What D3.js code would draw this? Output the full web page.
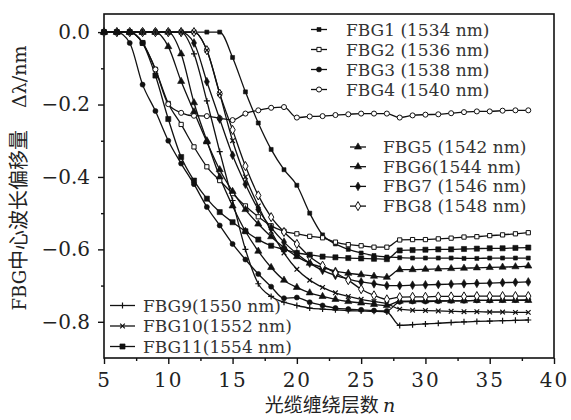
<!DOCTYPE html>
<html>
<head>
<meta charset="utf-8">
<script src="https://cdn.jsdelivr.net/npm/d3@7"></script>
<style>
  body { margin: 0; background: #fff; }
  svg { display: block; }
</style>
</head>
<body>
<div id="chart"></div>
<script>
// winding layers n
const layers = [5, 6, 7, 8, 9, 10, 11, 12, 13, 14, 15, 16, 17, 18, 19, 20, 21, 22,
  23, 24, 25, 26, 27, 28, 29, 30, 31, 32, 33, 34, 35, 36, 37, 38]

// centre wavelength shift (nm), one value per layer
const fbg1 = [0, 0, 0, 0, 0, 0, 0, 0, 0, 0, -0.07, -0.165, -0.251, -0.324, -0.38, -0.423, -0.5, -0.56,
  -0.585, -0.6, -0.61, -0.617, -0.621, -0.623, -0.624, -0.624, -0.624, -0.624, -0.625, -0.625, -0.624, -0.624, -0.624, -0.624]
const fbg2 = [0, 0, 0, -0.03, -0.103, -0.197, -0.255, -0.317, -0.372, -0.41, -0.446, -0.48, -0.51, -0.535, -0.55, -0.557, -0.564, -0.568,
  -0.58, -0.587, -0.59, -0.594, -0.594, -0.574, -0.573, -0.573, -0.571, -0.569, -0.566, -0.565, -0.562, -0.56, -0.557, -0.554]
const fbg3 = [0, 0, -0.03, -0.145, -0.218, -0.3, -0.363, -0.42, -0.483, -0.534, -0.585, -0.628, -0.668, -0.703, -0.735, -0.733, -0.746, -0.755,
  -0.762, -0.765, -0.767, -0.769, -0.77, -0.745, -0.744, -0.744, -0.743, -0.742, -0.742, -0.741, -0.741, -0.74, -0.74, -0.739]
const fbg4 = [0, 0, 0, -0.03, -0.103, -0.199, -0.223, -0.231, -0.232, -0.238, -0.243, -0.225, -0.216, -0.209, -0.207, -0.236, -0.233, -0.232,
  -0.229, -0.227, -0.225, -0.225, -0.225, -0.236, -0.23, -0.228, -0.227, -0.224, -0.221, -0.219, -0.219, -0.217, -0.216, -0.216]
const fbg5 = [0, 0, 0, 0, 0, -0.04, -0.136, -0.22, -0.303, -0.38, -0.44, -0.49, -0.53, -0.565, -0.595, -0.62, -0.638, -0.65,
  -0.66, -0.666, -0.67, -0.674, -0.677, -0.656, -0.656, -0.655, -0.654, -0.653, -0.652, -0.651, -0.65, -0.649, -0.648, -0.646]
const fbg6 = [0, 0, 0, 0, 0, 0, -0.06, -0.195, -0.3, -0.4, -0.48, -0.55, -0.605, -0.65, -0.685, -0.705, -0.72, -0.73,
  -0.738, -0.744, -0.748, -0.752, -0.755, -0.743, -0.743, -0.742, -0.742, -0.742, -0.742, -0.741, -0.741, -0.741, -0.741, -0.741]
const fbg7 = [0, 0, 0, 0, 0, 0, 0, -0.03, -0.137, -0.24, -0.34, -0.42, -0.49, -0.54, -0.58, -0.612, -0.638, -0.658,
  -0.672, -0.682, -0.69, -0.695, -0.7, -0.7, -0.699, -0.698, -0.697, -0.696, -0.695, -0.694, -0.693, -0.692, -0.691, -0.69]
const fbg8 = [0, 0, 0, 0, 0, 0, 0, 0, -0.05, -0.17, -0.27, -0.37, -0.451, -0.511, -0.552, -0.585, -0.62, -0.645,
  -0.665, -0.685, -0.71, -0.727, -0.738, -0.732, -0.731, -0.731, -0.73, -0.73, -0.73, -0.729, -0.729, -0.729, -0.729, -0.729]
const fbg9 = [0, 0, 0, 0, 0, 0, 0, -0.06, -0.19, -0.33, -0.465, -0.6, -0.695, -0.73, -0.746, -0.755, -0.762, -0.765,
  -0.767, -0.769, -0.77, -0.771, -0.773, -0.81, -0.808, -0.806, -0.804, -0.802, -0.8, -0.799, -0.798, -0.797, -0.796, -0.795]
const fbg10 = [0, 0, 0, 0, 0, 0, 0, 0, -0.05, -0.17, -0.3, -0.4, -0.48, -0.55, -0.61, -0.655, -0.685, -0.705,
  -0.72, -0.73, -0.738, -0.744, -0.75, -0.765, -0.768, -0.769, -0.77, -0.771, -0.772, -0.772, -0.773, -0.773, -0.774, -0.774]
const fbg11 = [0, 0, 0, -0.03, -0.12, -0.24, -0.345, -0.41, -0.46, -0.497, -0.525, -0.55, -0.573, -0.59, -0.6, -0.61, -0.615, -0.62,
  -0.622, -0.624, -0.625, -0.626, -0.627, -0.603, -0.602, -0.601, -0.6, -0.6, -0.599, -0.598, -0.597, -0.597, -0.596, -0.595]

const seriesNames = ['FBG1 (1534 nm)', 'FBG2 (1536 nm)', 'FBG3 (1538 nm)', 'FBG4 (1540 nm)',
  'FBG5 (1542 nm)', 'FBG6(1544 nm)', 'FBG7 (1546 nm)', 'FBG8 (1548 nm)',
  'FBG9(1550 nm)', 'FBG10(1552 nm)', 'FBG11(1554 nm)']
const seriesValues = [fbg1, fbg2, fbg3, fbg4, fbg5, fbg6, fbg7, fbg8, fbg9, fbg10, fbg11]

const xTicks = [5, 10, 15, 20, 25, 30, 35, 40]
const xMinorTicks = [7.5, 12.5, 17.5, 22.5, 27.5, 32.5, 37.5]
const yTicks = [0, -0.2, -0.4, -0.6, -0.8]
const yMinorTicks = [-0.1, -0.3, -0.5, -0.7]

// marker style per series
const markers = ['square', 'squareOpen', 'circle', 'circleOpen', 'triangle', 'triangle',
  'diamond', 'diamondOpen', 'plus', 'times', 'squareBig']

// legend blocks: [first series index, count, line x1, line x2, text x, first row y, row step]
const legendBlocks = [
  [0, 4, 311, 327, 346, 29.5, 20],
  [4, 4, 350, 366, 383, 147, 19.7],
  [8, 3, 110, 135, 143, 305.5, 20.5],
]

const margin = {top: 14, right: 17, bottom: 62, left: 104}
const width = 571 - margin.left - margin.right
const height = 420 - margin.top - margin.bottom

const svg = d3.select('#chart').append('svg')
  .attr('width', 571).attr('height', 420)
const g = svg.append('g')
  .attr('transform', 'translate(' + margin.left + ',' + margin.top + ')')

const x = d3.scaleLinear().domain([5, 40]).range([0, width])
const y = d3.scaleLinear().domain([-0.9, 0.05]).range([height, 0])

const plusType = {
  draw(ctx, size) {
    const r = Math.sqrt(size) / 2
    ctx.moveTo(-r, 0); ctx.lineTo(r, 0)
    ctx.moveTo(0, -r); ctx.lineTo(0, r)
  }
}
const timesType = {
  draw(ctx, size) {
    const r = Math.sqrt(size) / 2.6
    ctx.moveTo(-r, -r); ctx.lineTo(r, r)
    ctx.moveTo(-r, r); ctx.lineTo(r, -r)
  }
}

function markerPath(kind) {
  const s = {
    square: [d3.symbolSquare, 16], squareOpen: [d3.symbolSquare, 18], squareBig: [d3.symbolSquare, 26],
    circle: [d3.symbolCircle, 20], circleOpen: [d3.symbolCircle, 20],
    triangle: [d3.symbolTriangle, 22], diamond: [d3.symbolDiamond, 22], diamondOpen: [d3.symbolDiamond, 24],
    plus: [plusType, 36], times: [timesType, 36],
  }[kind]
  return d3.symbol().type(s[0]).size(s[1])()
}

function styleMarker(sel, kind) {
  const open = kind.endsWith('Open')
  const stroked = kind === 'plus' || kind === 'times'
  sel.attr('d', markerPath(kind))
    .attr('fill', stroked ? 'none' : open ? '#fff' : '#111')
    .attr('stroke', '#111')
    .attr('stroke-width', stroked ? 1.2 : open ? 1 : 0.6)
}

// axes
const tickFont = "'DejaVu Serif', serif"
const xAxis = g.append('g').attr('transform', 'translate(0,' + height + ')')
  .call(d3.axisBottom(x).tickValues(xTicks).tickSize(6).tickSizeOuter(0).tickPadding(9))
xAxis.selectAll('text').attr('font-family', tickFont).attr('font-size', 20).attr('letter-spacing', 2).attr('fill', '#222')
g.append('g').attr('transform', 'translate(0,' + height + ')')
  .call(d3.axisBottom(x).tickValues(xMinorTicks).tickSize(3).tickSizeOuter(0).tickFormat(''))

const yAxis = g.append('g')
  .call(d3.axisLeft(y).tickValues(yTicks).tickSize(6).tickSizeOuter(0).tickPadding(8).tickFormat(d3.format('.1f')))
yAxis.selectAll('text').attr('font-family', tickFont).attr('font-size', 20).attr('fill', '#222')
g.append('g')
  .call(d3.axisLeft(y).tickValues(yMinorTicks).tickSize(3).tickSizeOuter(0).tickFormat(''))

g.selectAll('.domain').attr('stroke', 'none')
g.selectAll('.tick line').attr('stroke', '#111').attr('stroke-width', 1.4)

g.append('rect').attr('x', 0).attr('y', 0).attr('width', width).attr('height', height)
  .attr('fill', 'none').attr('stroke', '#111').attr('stroke-width', 1.6)

// curves
const line = d3.line()
  .x((d) => x(d[0]))
  .y((d) => y(d[1]))
  .curve(d3.curveMonotoneX)

seriesValues.forEach((vals) => {
  g.append('path')
    .datum(layers.map((n, i) => [n, vals[i]]))
    .attr('fill', 'none')
    .attr('stroke', '#111')
    .attr('stroke-width', 1.3)
    .attr('d', line)
})

seriesValues.forEach((vals, k) => {
  g.append('g').selectAll('path')
    .data(layers.map((n, i) => [n, vals[i]]))
    .join('path')
    .attr('transform', (d) => 'translate(' + x(d[0]) + ',' + y(d[1]) + ')')
    .call(styleMarker, markers[k])
})

// legend
legendBlocks.forEach(([start, count, x1, x2, tx, y0, step]) => {
  for (let j = 0; j < count; j++) {
    const k = start + j
    const ry = y0 + j * step
    const item = svg.append('g')
    item.append('line').attr('x1', x1).attr('x2', x2).attr('y1', ry).attr('y2', ry)
      .attr('stroke', '#111').attr('stroke-width', 1.3)
    item.append('path').attr('transform', 'translate(' + (x1 + x2) / 2 + ',' + ry + ')')
      .call(styleMarker, markers[k])
    item.append('text').attr('x', tx).attr('y', ry + 6)
      .attr('font-family', "'DejaVu Serif', serif").attr('font-size', 17).attr('fill', '#333')
      .text(seriesNames[k])
  }
})

// axis titles
const yTitle = svg.append('text')
  .attr('transform', 'translate(26,178) rotate(-90)')
  .attr('text-anchor', 'middle')
  .attr('fill', '#222')
yTitle.append('tspan').attr('font-family', "'DejaVu Serif', serif").attr('font-size', 18).text('FBG')
yTitle.append('tspan').attr('font-family', "'Noto Sans CJK SC', sans-serif").attr('font-size', 20).text('中心波长偏移量')
yTitle.append('tspan').attr('font-family', "'DejaVu Serif', serif").attr('font-size', 19).attr('dx', 22).text('Δλ/nm')

const xTitle = svg.append('text')
  .attr('x', 330).attr('y', 412)
  .attr('text-anchor', 'middle')
  .attr('fill', '#222')
xTitle.append('tspan').attr('font-family', "'Noto Sans CJK SC', sans-serif").attr('font-size', 19).text('光缆缠绕层数 ')
xTitle.append('tspan').attr('font-family', "'DejaVu Serif', serif").attr('font-style', 'italic').attr('font-size', 19).text('n')
</script>
</body>
</html>
